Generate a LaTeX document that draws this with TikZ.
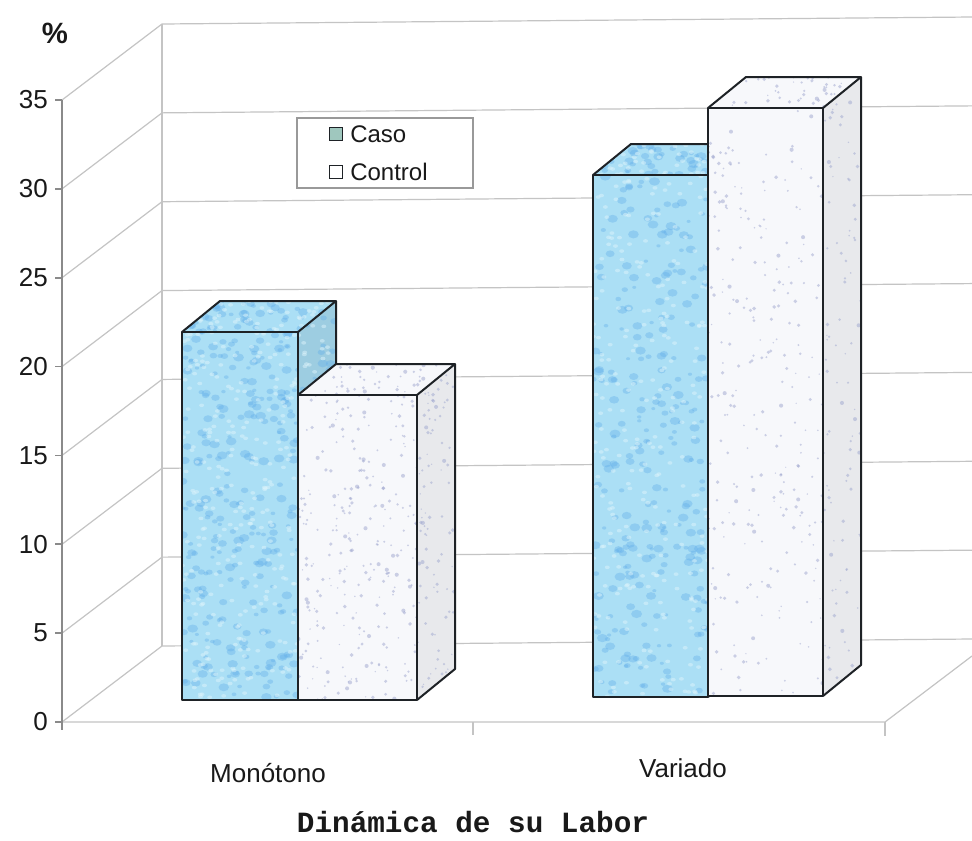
\documentclass[tikz,border=0pt]{standalone}
\usepackage{fontspec}
\setmainfont{Liberation Sans}
\newfontfamily\typefont{Liberation Mono}
\usetikzlibrary{calc}
\definecolor{gridgray}{HTML}{C4C4C4}
\definecolor{axisgray}{HTML}{8A8A8A}
\definecolor{barblack}{HTML}{1E2226}
\definecolor{casobase}{HTML}{ABDFF5}
\definecolor{casospot}{HTML}{62AEEA}
\definecolor{casolight}{HTML}{DDF4FB}
\definecolor{ctrlbase}{HTML}{F7F8FB}
\definecolor{ctrlspot}{HTML}{9EA6CF}
\definecolor{legmark}{HTML}{9FC7BE}
% #1 ox, #2 oy, #3 ux, #4 uy, #5 vx, #6 vy, #7 base, #8 kind (1 blobs, 0 specks), #9 count
\newcommand\texface[9]{%
  \begin{scope}
    \clip (#1,#2) -- ++(#3,#4) -- ++(#5,#6) -- ++(-#3,-#4) -- cycle;
    \fill[#7] (#1,#2) -- ++(#3,#4) -- ++(#5,#6) -- ++(-#3,-#4) -- cycle;
    \ifnum#8=1
      \foreach \i in {1,...,#9}{%
        \pgfmathsetmacro\pa{rnd}\pgfmathsetmacro\pb{rnd}%
        \pgfmathsetmacro\qx{#1+\pa*(#3)+\pb*(#5)}\pgfmathsetmacro\qy{#2+\pa*(#4)+\pb*(#6)}%
        \pgfmathsetmacro\pr{2+3.5*rnd}%
        \fill[casospot,opacity=0.38] (\qx,\qy) ellipse ({\pr} and {0.75*\pr});
      }
      \foreach \i in {1,...,#9}{%
        \pgfmathsetmacro\pa{rnd}\pgfmathsetmacro\pb{rnd}%
        \pgfmathsetmacro\qx{#1+\pa*(#3)+\pb*(#5)}\pgfmathsetmacro\qy{#2+\pa*(#4)+\pb*(#6)}%
        \fill[casolight,opacity=0.5] (\qx,\qy) ellipse (2.5 and 1.8);
      }
    \else
      \foreach \i in {1,...,#9}{%
        \pgfmathsetmacro\pa{rnd}\pgfmathsetmacro\pb{rnd}%
        \pgfmathsetmacro\qx{#1+\pa*(#3)+\pb*(#5)}\pgfmathsetmacro\qy{#2+\pa*(#4)+\pb*(#6)}%
        \pgfmathsetmacro\pr{0.7+1.4*rnd}%
        \fill[ctrlspot,opacity=0.5] (\qx,\qy) circle ({\pr});
      }
    \fi
  \end{scope}}
% #1 x0, #2 x1, #3 top, #4 bottom, #5 base, #6 kind, #7 side base
\newcommand\barbox[7]{%
  \pgfmathsetmacro\bw{#2-#1}\pgfmathsetmacro\bh{#4-#3}%
  \texface{#1}{#3}{\bw}{0}{0}{\bh}{#5}{#6}{260}
  \texface{#1}{#3}{\bw}{0}{\dpx}{\dpy}{#5}{#6}{40}
  \texface{#2}{#3}{\dpx}{\dpy}{0}{\bh}{#7}{#6}{90}
  \draw[barline] (#1,#4) rectangle (#2,#3);
  \draw[barline] (#1,#3) -- ($(#1,#3)+(\dpx,\dpy)$) -- ($(#2,#3)+(\dpx,\dpy)$) -- (#2,#3);
  \draw[barline] ($(#2,#3)+(\dpx,\dpy)$) -- ($(#2,#4)+(\dpx,\dpy)$) -- (#2,#4);
}
\begin{document}
\begin{tikzpicture}[x=0.75pt,y=-0.75pt,
  grid/.style={draw=gridgray,line width=0.9pt},
  axisline/.style={draw=axisgray,line width=1.2pt},
  barline/.style={draw=barblack,line width=1.5pt,line join=round},
  ticklab/.style={font=\fontsize{19.5}{21}\selectfont,text=black!90,anchor=east,inner sep=0pt},
  catlab/.style={font=\fontsize{19.5}{21}\selectfont,text=black!90,inner sep=0pt},
  leglab/.style={font=\fontsize{18}{20}\selectfont,text=black!90,anchor=west,inner sep=0pt}]
\pgfmathsetseed{4242}
\def\dpx{38}\def\dpy{-31}
\useasboundingbox[fill=white] (0,0) rectangle (972,840);
% back wall and side wall gridlines
\foreach \k in {0,...,7}{
  \pgfmathsetmacro\yf{722-88.857*\k}
  \pgfmathsetmacro\yb{646-88.857*\k}
  \pgfmathsetmacro\ybr{\yb-7}
  \draw[grid] (62,\yf) -- (162,\yb) -- (972,\ybr);
  \draw[axisline] (55,\yf) -- (62,\yf);
}
\draw[grid] (162,24) -- (162,646);
% floor
\draw[grid] (62,722) -- (885,722) -- (972,656);
\draw[grid] (473,722) -- (473,735);
\draw[grid] (885,722) -- (885,736);
% front axis
\draw[axisline] (62,100) -- (62,730);
% tick labels
\foreach \k/\v in {0/0,1/5,2/10,3/15,4/20,5/25,6/30,7/35}{
  \pgfmathsetmacro\yf{722-88.857*\k}
  \node[ticklab] (t\k) at (48,\yf) {\v};
}
\node[font=\fontsize{22}{24}\selectfont\bfseries,text=black!90] (pct) at (55,33) {\%};
% bars
\barbox{182}{298}{332}{700}{casobase}{1}{casobase!92!black}
\barbox{298}{417}{395}{700}{ctrlbase}{0}{ctrlbase!94!black}
\barbox{593}{708}{175}{697}{casobase}{1}{casobase!92!black}
\barbox{708}{823}{108}{696}{ctrlbase}{0}{ctrlbase!94!black}
% legend
\draw[draw=gray!80,line width=0.8pt,fill=white] (297,118) rectangle (473,188);
\node[draw=barblack,line width=1pt,fill=legmark,minimum size=9.5pt,inner sep=0pt] (m1) at (336,134) {};
\node[draw=barblack,line width=1pt,fill=white,minimum size=9.5pt,inner sep=0pt] (m2) at (336,172) {};
\node[leglab] (l1) at (350,134) {Caso};
\node[leglab] (l2) at (350,172) {Control};
% category labels and title
\node[catlab] (c1) at (268,773) {Monótono};
\node[catlab] (c2) at (683,768) {Variado};
\node[font=\typefont\bfseries\fontsize{22}{24}\selectfont,text=black!90,inner sep=0pt] (title) at (473,822) {Dinámica de su Labor};
\end{tikzpicture}
\end{document}
